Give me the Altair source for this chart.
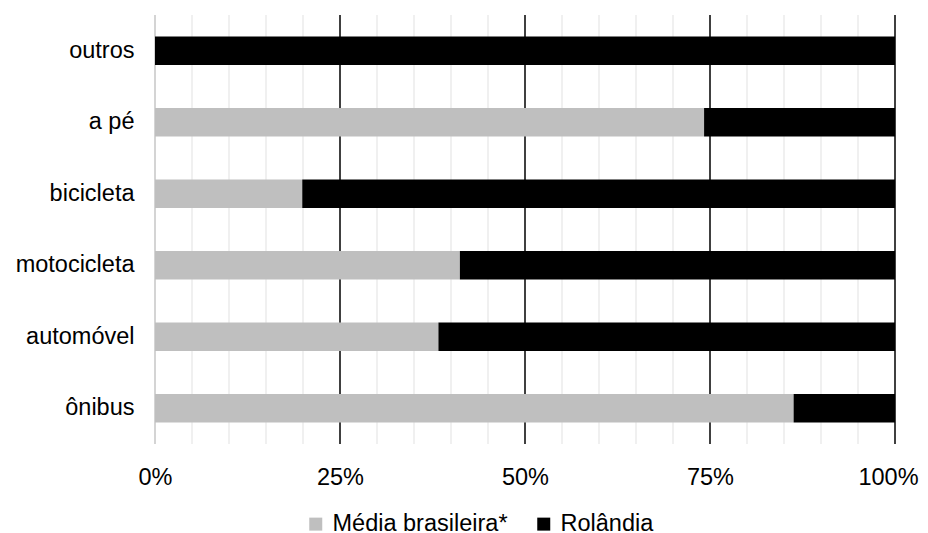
import altair as alt
import pandas as pd

categorias = ["outros", "a pé", "bicicleta", "motocicleta", "automóvel", "ônibus"]
media_brasileira = [0.0, 74.2, 19.9, 41.2, 38.3, 86.3]
rolandia = [100.0, 25.8, 80.1, 58.8, 61.7, 13.7]
series = ["Média brasileira*", "Rolândia"]
cores = ["#bfbfbf", "#000000"]
major_ticks = [0, 25, 50, 75, 100]
minor_ticks = [5, 10, 15, 20, 30, 35, 40, 45, 55, 60, 65, 70, 80, 85, 90, 95]

rows = []
for c, m, r in zip(categorias, media_brasileira, rolandia):
    rows.append({"categoria": c, "serie": series[0], "valor": m, "ordem": 0})
    rows.append({"categoria": c, "serie": series[1], "valor": r, "ordem": 1})
df = pd.DataFrame(rows)

FONT = "Liberation Sans"
FS = 23.5

grid_scale = alt.Scale(domain=[0, 100], nice=False)

minor = alt.Chart(pd.DataFrame({"v": minor_ticks})).mark_rule(
    color="#ebebeb", strokeWidth=1.5
).encode(x=alt.X("v:Q", scale=grid_scale, axis=None))

major = alt.Chart(pd.DataFrame({"v": major_ticks[1:]})).mark_rule(
    color="#000000", strokeWidth=1.5
).encode(x=alt.X("v:Q", scale=grid_scale, axis=None))

zero = alt.Chart(pd.DataFrame({"v": major_ticks[:1]})).mark_rule(
    color="#d4d4d4", strokeWidth=2
).encode(x=alt.X("v:Q", scale=grid_scale, axis=None))

bars = alt.Chart(df).mark_bar().encode(
    y=alt.Y(
        "categoria:N",
        sort=categorias,
        scale=alt.Scale(paddingInner=0.6, paddingOuter=0.3),
        axis=alt.Axis(
            title=None, domain=False, ticks=False, labelFontSize=FS,
            labelFont=FONT, labelColor="#000000", labelPadding=21,
        ),
    ),
    x=alt.X(
        "valor:Q",
        stack="normalize",
        scale=alt.Scale(domain=[0, 1], nice=False),
        axis=alt.Axis(
            title=None, values=[v / 100 for v in major_ticks], format=".0%",
            domain=False, ticks=False, grid=False, labelFontSize=FS,
            labelFont=FONT, labelColor="#000000", labelPadding=21,
            labelFlush=False,
            labelOffset=alt.condition("datum.value >= 1", alt.value(-7), alt.value(0)),
        ),
    ),
    color=alt.Color(
        "serie:N",
        scale=alt.Scale(domain=series, range=cores),
        legend=alt.Legend(
            title=None, orient="none", direction="horizontal",
            legendX=149, legendY=497, symbolType="square", symbolSize=169,
            symbolStrokeWidth=0, labelFontSize=FS, labelFont=FONT,
            labelColor="#000000", columnPadding=24, labelOffset=5,
            labelLimit=400,
        ),
    ),
    order=alt.Order("ordem:Q"),
)

chart = alt.layer(minor, major, zero, bars).resolve_scale(x="independent").properties(
    width=740, height=429,
    autosize=alt.AutoSizeParams(type="none"),
    padding={"left": 147, "top": 7, "right": 25, "bottom": 92},
).configure_view(stroke=None)

chart.save("out.html", embed_options={"renderer": "svg", "actions": False})
